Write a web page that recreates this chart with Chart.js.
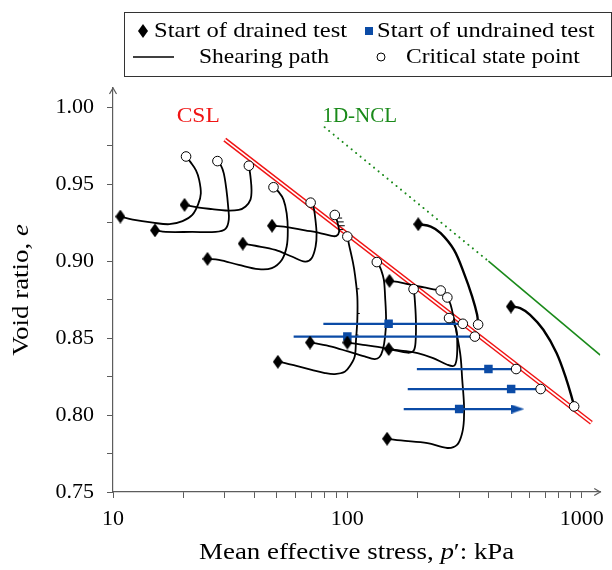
<!DOCTYPE html>
<html>
<head>
<meta charset="utf-8">
<script src="https://cdn.jsdelivr.net/npm/chart.js@4.4.1/dist/chart.umd.min.js"></script>
<style>
  html, body { margin: 0; padding: 0; background: #fff; }
  #wrap { position: relative; width: 612px; height: 570px; }
</style>
</head>
<body>
<div id="wrap"><canvas id="chart" width="612" height="570"></canvas></div>
<script>
// ─── DATA (p' in kPa, e) ───────────────────────────────────
// drained shearing paths: first point = start, last point = critical state
const pathD1  = [[10.75,0.929],[12.15,0.927],[14.8,0.925],[17.4,0.924],[19.8,0.926],[21.8,0.930],[23.1,0.937],[23.7,0.944],[23.3,0.953],[22.6,0.959],[21.5,0.964],[20.5,0.968]];
const pathD2  = [[15.1,0.920],[16.8,0.919],[21.8,0.919],[27.4,0.919],[30.2,0.921],[31.2,0.927],[31.0,0.9355],[30.5,0.946],[29.7,0.957],[28.8,0.9625],[27.9,0.965]];
const pathD3  = [[20.2,0.9366],[23.3,0.9348],[26.5,0.9338],[30.2,0.9329],[34.4,0.9333],[36.8,0.9355],[38.6,0.940],[39.0,0.9463],[38.6,0.955],[38.2,0.960],[38.0,0.962]];
const pathD4  = [[25.3,0.9015],[28.3,0.9008],[34.4,0.8976],[41.8,0.8948],[47.6,0.8955],[52.5,0.9008],[55.1,0.9095],[55.7,0.920],[55.1,0.931],[53.4,0.940],[50.9,0.945],[48.4,0.948]];
const pathD5  = [[35.8,0.9114],[40.5,0.910],[49.3,0.9073],[57.9,0.903],[66.0,0.8997],[70.4,0.9019],[73.2,0.9095],[73.9,0.918],[72.8,0.929],[71.6,0.9355],[69.7,0.938]];
const pathD6  = [[47.7,0.923],[56.1,0.922],[66.0,0.920],[75.1,0.9186],[85.6,0.9164],[89.8,0.9164],[92.2,0.919],[91.3,0.9236],[89.6,0.928],[88.4,0.930]];
const pathD7  = [[50.5,0.8346],[54.3,0.8338],[61.8,0.8316],[70.4,0.8294],[80.2,0.8273],[88.4,0.8266],[97.5,0.8281],[102.7,0.832],[107.5,0.838],[108.9,0.849],[110.3,0.862],[110.3,0.877],[107.8,0.891],[105.7,0.899],[101.7,0.9106],[100,0.916]];
const pathD8  = [[69.3,0.8471],[75.1,0.8463],[85.6,0.8445],[100.7,0.8413],[118.5,0.8381],[130.7,0.8364],[137.2,0.8377],[141.7,0.8424],[144.9,0.851],[146.3,0.862],[144.9,0.877],[143.1,0.888],[139.3,0.8944],[136.1,0.8976],[133.6,0.8994]];
const pathD9  = [[100,0.8471],[116.6,0.8456],[134.9,0.8443],[156.2,0.8424],[180.8,0.8405],[191.7,0.8418],[195.5,0.8476],[196.1,0.862],[193.6,0.8768],[191.7,0.8818]];
const pathD10 = [[150.2,0.8429],[169.3,0.8419],[199.4,0.8403],[232.3,0.837],[267.1,0.8327],[285.2,0.832],[292.3,0.8359],[294.5,0.8445],[292.0,0.8554],[283.0,0.8600],[271.6,0.863]];
const pathD11 = [[151.3,0.8872],[169.3,0.8861],[186.7,0.8846],[212.8,0.8829],[233.0,0.8817],[250.2,0.8809]];
const pathD12 = [[147.8,0.7846],[169.3,0.7835],[219.8,0.7818],[267.1,0.7786],[294.5,0.7808],[309.2,0.7885],[314.4,0.7969],[314.4,0.8077],[309.2,0.823],[304.2,0.838],[294.5,0.851],[285.2,0.862],[275.9,0.8716],[267.1,0.8764]];
const pathD13 = [[200.7,0.924],[227,0.9225],[250.2,0.9182],[285.2,0.9073],[314.4,0.8922],[340.9,0.877],[357.9,0.8651],[361.4,0.8588]];
const pathD14 = [[498.9,0.8705],[546.2,0.8695],[602.2,0.8651],[686.1,0.8554],[781.1,0.8403],[861.3,0.8229],[913.2,0.8099],[928.6,0.8056]];

// short noise spikes seen on some measured paths: [p from, p to, e]
const noiseSpikes = [
  [90.5,96.5,0.9255],[91.5,97.5,0.923],[92.0,96.0,0.9205],[90.0,95.0,0.928],
  [108.5,111.5,0.852],[110.0,113.0,0.866],[109.5,112.5,0.882],
];

// undrained tests (constant e)
const undrainedE     = [0.8593, 0.851, 0.8299, 0.8169, 0.8039];
const undrainedStart = [150, 100, 400, 500, 300];
const undrainedLow   = [79, 59, 198, 181, 174];
const undrainedHigh  = [311, 350, 525, 668, 534];
const undrainedCSP   = [true, true, true, true, false];

// reference lines
const cslP = [30, 1100],  cslE = [0.979, 0.795];
const nclDotP = [80, 400], nclDotE = [0.987, 0.900];
const nclP = [400, 1200],  nclE = [0.900, 0.839];
const cslLabel = [23.1, 0.994];
const nclLabel = [113, 0.994];

// axes
const xTicks = [10,20,30,40,50,60,70,80,90,100,200,300,400,500,600,700,800,900,1000];
const xLabels = [10, 100, 1000];
const yTicks = [0.75,0.775,0.80,0.825,0.85,0.875,0.90,0.925,0.95,0.975,1.00];

const SERIF = '"Liberation Serif", "DejaVu Serif", serif';
const AXIS_GREY = '#5c5c5c';
const BLUE  = '#0b4ba6';
const RED   = '#f01414';
const GREEN = '#1a8a1a';

const drainedPaths = [pathD1,pathD2,pathD3,pathD4,pathD5,pathD6,pathD7,pathD8,pathD9,pathD10,pathD11,pathD12,pathD13,pathD14];
const toXY = arr => arr.map(([x, y]) => ({ x, y }));

// ─── MARKER IMAGES ─────────────────────────────────────────
function diamondImg(w, h) {
  const c = document.createElement('canvas');
  c.width = w; c.height = h;
  const g = c.getContext('2d');
  g.fillStyle = '#000';
  g.beginPath();
  g.moveTo(w / 2, 0); g.lineTo(w, h / 2); g.lineTo(w / 2, h); g.lineTo(0, h / 2);
  g.closePath(); g.fill();
  return c;
}
function arrowImg(w, h) {
  const c = document.createElement('canvas');
  c.width = w; c.height = h;
  const g = c.getContext('2d');
  g.fillStyle = BLUE;
  g.beginPath();
  g.moveTo(0, 0); g.lineTo(w, h / 2); g.lineTo(0, h);
  g.closePath(); g.fill();
  return c;
}
const DIAMOND = diamondImg(10, 14);
const ARROW = arrowImg(13, 9);

// ─── DATASETS ──────────────────────────────────────────────
const datasets = [];

// CSL as a double red line
datasets.push({ data: toXY(cslP.map((p, i) => [p, cslE[i]])), showLine: true, borderColor: '#fff', borderWidth: 1.6, pointRadius: 0, order: 6 });
datasets.push({ data: toXY(cslP.map((p, i) => [p, cslE[i]])), showLine: true, borderColor: RED, borderWidth: 4.6, pointRadius: 0, order: 7 });

// 1D-NCL
datasets.push({ data: toXY(nclDotP.map((p, i) => [p, nclDotE[i]])), showLine: true, borderColor: GREEN, borderWidth: 2,
  borderDash: [0.1, 5.7], borderCapStyle: 'round', pointRadius: 0, order: 5 });
datasets.push({ data: toXY(nclP.map((p, i) => [p, nclE[i]])), showLine: true, borderColor: GREEN, borderWidth: 1.6, pointRadius: 0, order: 5 });

// drained shearing paths
drainedPaths.forEach((path, i) => datasets.push({
  data: toXY(path), showLine: true, borderColor: '#000', borderWidth: i >= 12 ? 2.4 : 1.8,
  pointRadius: 0, tension: 0.35, order: 4,
}));

// measurement noise spikes (segments split by NaN gaps)
const spikeData = [];
noiseSpikes.forEach(([p0, p1, e]) => { spikeData.push({ x: p0, y: e }, { x: p1, y: e }, { x: NaN, y: NaN }); });
datasets.push({ data: spikeData, showLine: true, spanGaps: false, borderColor: '#000', borderWidth: 1, pointRadius: 0, order: 4 });

// undrained paths
undrainedE.forEach((e, i) => datasets.push({
  data: toXY([[undrainedLow[i], e], [undrainedHigh[i], e]]), showLine: true,
  borderColor: BLUE, borderWidth: 2.2, pointRadius: 0, order: 3,
}));

// arrow head on the undrained test that does not reach critical state
datasets.push({
  data: toXY(undrainedE.map((e, i) => [undrainedHigh[i], e]).filter((_, i) => !undrainedCSP[i])),
  pointStyle: ARROW, pointRadius: 5, order: 2,
});

// start markers
datasets.push({ data: toXY(drainedPaths.map(p => p[0])), pointStyle: DIAMOND, pointRadius: 5, order: 1 });
datasets.push({ data: toXY(undrainedE.map((e, i) => [undrainedStart[i], e])), pointStyle: 'rect', pointRadius: 6,
  backgroundColor: BLUE, borderColor: BLUE, borderWidth: 0, order: 1 });

// critical state points
const csPoints = drainedPaths.map(p => p[p.length - 1])
  .concat(undrainedE.map((e, i) => [undrainedHigh[i], e]).filter((_, i) => undrainedCSP[i]));
datasets.push({ data: toXY(csPoints), pointStyle: 'circle', pointRadius: 4.8,
  backgroundColor: '#fff', borderColor: '#000', borderWidth: 1, order: 0 });

// ─── DECORATION (legend box, arrows, titles, line labels) ──
// text is stretched a little to get closer to the wide Computer Modern look
function drawRich(ctx, parts, x, y, align, sx = 1.12) {
  let total = 0;
  parts.forEach(([t, f]) => { ctx.font = f; total += ctx.measureText(t).width; });
  ctx.save();
  ctx.translate(align === 'center' ? x - total * sx / 2 : x, y);
  ctx.scale(sx, 1);
  let cx = 0;
  parts.forEach(([t, f]) => { ctx.font = f; ctx.fillText(t, cx, 0); cx += ctx.measureText(t).width; });
  ctx.restore();
}

const decor = {
  id: 'decor',
  afterDraw(chart) {
    const { ctx, chartArea: a, scales: { x, y } } = chart;
    ctx.save();
    ctx.textBaseline = 'middle';
    ctx.textAlign = 'left';

    // axis arrow heads
    ctx.strokeStyle = AXIS_GREY; ctx.lineWidth = 1.2;
    ctx.beginPath();
    ctx.moveTo(a.right - 6, a.bottom - 3.5); ctx.lineTo(a.right, a.bottom); ctx.lineTo(a.right - 6, a.bottom + 3.5);
    ctx.moveTo(a.left - 3.5, a.top + 6); ctx.lineTo(a.left, a.top); ctx.lineTo(a.left + 3.5, a.top + 6);
    ctx.stroke();

    // axis titles
    const f = sz => `${sz}px ${SERIF}`;
    const fi = sz => `italic ${sz}px ${SERIF}`;
    ctx.fillStyle = '#000';
    drawRich(ctx, [['Mean effective stress, ', f(24)], ['p', fi(24)], ['\u2032', f(24)], [': kPa', f(24)]],
      (a.left + a.right) / 2, 553, 'center');
    ctx.save();
    ctx.translate(22, (a.top + a.bottom) / 2);
    ctx.rotate(-Math.PI / 2);
    drawRich(ctx, [['Void ratio, ', f(24)], ['e', fi(24)]], 0, 0, 'center');
    ctx.restore();

    // line labels
    ctx.fillStyle = RED;
    drawRich(ctx, [['CSL', f(21)]], x.getPixelForValue(cslLabel[0]), y.getPixelForValue(cslLabel[1]), 'center');
    ctx.fillStyle = GREEN;
    drawRich(ctx, [['1D-NCL', f(21)]], x.getPixelForValue(nclLabel[0]), y.getPixelForValue(nclLabel[1]), 'center', 1);

    // legend
    ctx.strokeStyle = '#333'; ctx.lineWidth = 1;
    ctx.fillStyle = '#fff';
    ctx.fillRect(124.5, 12.5, 487, 64);
    ctx.strokeRect(124.5, 12.5, 487, 64);
    const r1 = 31, r2 = 57;
    ctx.drawImage(DIAMOND, 143 - 5, r1 - 7);
    ctx.fillStyle = BLUE;
    ctx.fillRect(365, r1 - 4, 8, 8);
    ctx.strokeStyle = '#000'; ctx.lineWidth = 1.6;
    ctx.beginPath(); ctx.moveTo(133, r2); ctx.lineTo(174, r2); ctx.stroke();
    ctx.fillStyle = '#fff'; ctx.lineWidth = 1;
    ctx.beginPath(); ctx.arc(381, r2, 4, 0, Math.PI * 2); ctx.fill(); ctx.stroke();
    ctx.fillStyle = '#000';
    drawRich(ctx, [['Start of drained test', f(21)]], 154, r1, 'left', 1.17);
    drawRich(ctx, [['Start of undrained test', f(21)]], 377, r1, 'left', 1.17);
    drawRich(ctx, [['Shearing path', f(21)]], 264, r2, 'center');
    drawRich(ctx, [['Critical state point', f(21)]], 406, r2, 'left');
    ctx.restore();
  },
};

// ─── CHART ─────────────────────────────────────────────────
new Chart(document.getElementById('chart'), {
  type: 'scatter',
  data: { datasets },
  options: {
    responsive: false,
    animation: false,
    devicePixelRatio: 1,
    events: [],
    layout: { padding: { top: 88, right: 8, left: 0, bottom: 0 } },
    plugins: { legend: { display: false }, tooltip: { enabled: false } },
    scales: {
      x: {
        type: 'logarithmic', min: 10, max: 1200,
        afterBuildTicks: s => { s.ticks = xTicks.map(v => ({ value: v })); },
        afterFit: s => { s.height = 78; },
        ticks: {
          autoSkip: false, maxRotation: 0, padding: 8, color: '#000',
          font: { family: SERIF, size: 22 },
          callback: v => (xLabels.includes(v) ? String(v) : ''),
        },
        grid: { drawOnChartArea: false, drawTicks: true, tickLength: 6, color: AXIS_GREY },
        border: { display: true, color: AXIS_GREY, width: 1.2 },
      },
      y: {
        type: 'linear', min: 0.75, max: 1.0125,
        afterBuildTicks: s => { s.ticks = yTicks.map(v => ({ value: v })); },
        afterFit: s => { s.width = 113; },
        ticks: {
          autoSkip: false, padding: 13, color: '#000',
          font: { family: SERIF, size: 22 },
          callback: v => (Math.round(v * 1000) % 50 === 0 ? v.toFixed(2) : ''),
        },
        grid: { drawOnChartArea: false, drawTicks: true, tickLength: 6, color: AXIS_GREY },
        border: { display: true, color: AXIS_GREY, width: 1.2 },
      },
    },
  },
  plugins: [decor],
});
</script>
</body>
</html>
